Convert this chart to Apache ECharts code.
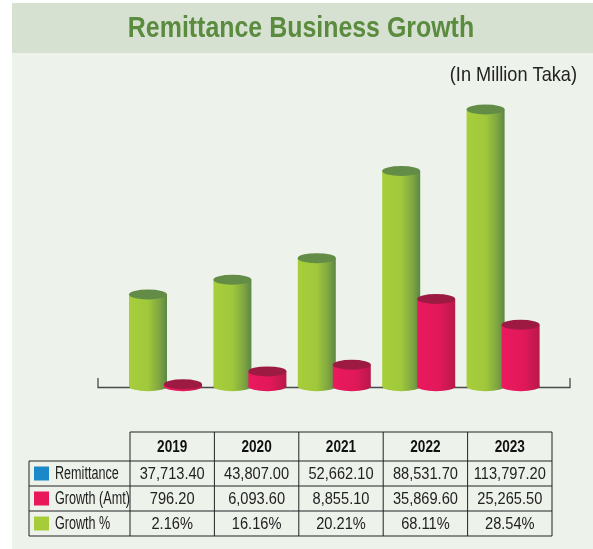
<!DOCTYPE html>
<html>
<head>
<meta charset="utf-8">
<script src="https://cdn.jsdelivr.net/npm/echarts@6/dist/echarts.min.js"></script>
<style>
  html, body { margin: 0; padding: 0; background: #ffffff; }
  #main { width: 593px; height: 549px; }
</style>
</head>
<body>
<div id="main"></div>
<script>
// data (In Million Taka)
var years = ['2019', '2020', '2021', '2022', '2023'];
var remittance = [37713.40, 43807.00, 52662.10, 88531.70, 113797.20];
var growthAmt = [796.20, 6093.60, 8855.10, 35869.60, 25265.50];
var growthPct = [2.16, 16.16, 20.21, 68.11, 28.54];
var rowNames = ['Remittance', 'Growth (Amt)', 'Growth %'];
var rowColors = ['#1b88c9', '#e8185b', '#a6cd39'];

// no condensed Helvetica here, so Liberation Sans squeezed with scaleX
var FONT = '"Liberation Sans", Arial, sans-serif';

function fmt(v) {
  return v.toLocaleString('en-US', { minimumFractionDigits: 2, maximumFractionDigits: 2 });
}

// cylinder drawn through the axes
function cylinder(bodyStops, topColor, offset) {
  return function (params, api) {
    var base = api.coord([api.value(0), 0]);
    var top = api.coord([api.value(0), api.value(1)]);
    var w = 38, r = w / 2, ry = 5;
    var cx = base[0] + offset;
    var grad = new echarts.graphic.LinearGradient(0, 0, 1, 0, bodyStops);
    return {
      type: 'group',
      children: [
        { type: 'rect', shape: { x: cx - r, y: top[1], width: w, height: base[1] - top[1] }, style: { fill: grad } },
        { type: 'circle', x: cx, y: base[1], scaleY: ry / r, shape: { cx: 0, cy: 0, r: r }, style: { fill: grad } },
        { type: 'circle', x: cx, y: top[1], scaleY: ry / r, shape: { cx: 0, cy: 0, r: r }, style: { fill: topColor } }
      ]
    };
  };
}

var greenStops = [
  { offset: 0, color: '#a7ce3a' },
  { offset: 0.5, color: '#a0c83b' },
  { offset: 0.8, color: '#7fa641' },
  { offset: 1, color: '#5b8747' }
];
var redStops = [
  { offset: 0, color: '#ec195f' },
  { offset: 0.6, color: '#e0185a' },
  { offset: 1, color: '#b8184a' }
];

// table graphic built from arrays
var colX = [130, 214.4, 298.8, 383.2, 467.6, 552];
var rowY = [432, 461, 486, 511, 536];
var labelX = 29;
var table = [];
var lineStyle = { stroke: '#222', lineWidth: 1 };
rowY.forEach(function (y, i) {
  var x0 = i === 0 ? colX[0] : labelX;
  table.push({ type: 'line', z: 10, shape: { x1: x0, y1: y, x2: colX[5], y2: y }, style: lineStyle });
});
colX.forEach(function (x) {
  table.push({ type: 'line', z: 10, shape: { x1: x, y1: rowY[0], x2: x, y2: rowY[4] }, style: lineStyle });
});
table.push({ type: 'line', z: 10, shape: { x1: labelX, y1: rowY[1], x2: labelX, y2: rowY[4] }, style: lineStyle });
years.forEach(function (y, i) {
  table.push({
    type: 'text', z: 10, scaleX: 0.85,
    x: (colX[i] + colX[i + 1]) / 2, y: (rowY[0] + rowY[1]) / 2 + 1,
    style: { text: y, font: 'bold 16px ' + FONT, fill: '#111', align: 'center', verticalAlign: 'middle' }
  });
});
var rows = [remittance.map(fmt), growthAmt.map(fmt), growthPct.map(function (v) { return v.toFixed(2) + '%'; })];
rows.forEach(function (vals, r) {
  var cy = (rowY[r + 1] + rowY[r + 2]) / 2;
  table.push({ type: 'rect', z: 10, shape: { x: 34, y: cy - 7, width: 15, height: 14 }, style: { fill: rowColors[r] } });
  table.push({
    type: 'text', z: 10, x: 55, y: cy + 1, scaleX: 0.72,
    style: { text: rowNames[r], font: '17.5px ' + FONT, fill: '#222', verticalAlign: 'middle' }
  });
  vals.forEach(function (v, i) {
    table.push({
      type: 'text', z: 10, scaleX: 0.86,
      x: (colX[i] + colX[i + 1]) / 2, y: cy + 1,
      style: { text: v, font: '17px ' + FONT, fill: '#222', align: 'center', verticalAlign: 'middle' }
    });
  });
});

var option = {
  animation: false,
  grid: { left: 123.3, right: 47.7, top: 94.4, bottom: 162.8 },
  xAxis: { type: 'category', data: years, show: false },
  yAxis: { type: 'value', min: 0, max: 120000, show: false, splitLine: { show: false } },
  graphic: [
    { type: 'rect', z: -10, shape: { x: 12, y: 3, width: 581, height: 546 }, style: { fill: '#edf2eb' } },
    { type: 'rect', z: -9, shape: { x: 12, y: 3, width: 581, height: 50 }, style: { fill: '#d6e1d2' } },
    {
      type: 'text', z: 1, x: 301, y: 29, scaleX: 0.845,
      style: { text: 'Remittance Business Growth', font: 'bold 29.5px ' + FONT, fill: '#5b8b3e', align: 'center', verticalAlign: 'middle' }
    },
    {
      type: 'text', z: 1, x: 577, y: 75, scaleX: 0.865,
      style: { text: '(In Million Taka)', font: '21px ' + FONT, fill: '#222', align: 'right', verticalAlign: 'middle' }
    },
    {
      type: 'polyline', z: 0,
      shape: { points: [[98, 378], [98, 387.5], [570, 387.5], [570, 378]] },
      style: { stroke: '#4a4a4a', lineWidth: 1.3, fill: null }
    }
  ].concat(table),
  series: [
    {
      type: 'custom', name: 'Remittance', z: 2,
      renderItem: cylinder(greenStops, '#638c47', -17.5),
      data: remittance.map(function (v, i) { return [i, v]; }),
      encode: { x: 0, y: 1 }
    },
    {
      type: 'custom', name: 'Growth (Amt)', z: 3,
      renderItem: cylinder(redStops, '#9d1b42', 17.5),
      data: growthAmt.map(function (v, i) { return [i, v]; }),
      encode: { x: 0, y: 1 }
    }
  ]
};

var chart = echarts.init(document.getElementById('main'));
chart.setOption(option);
</script>
</body>
</html>
